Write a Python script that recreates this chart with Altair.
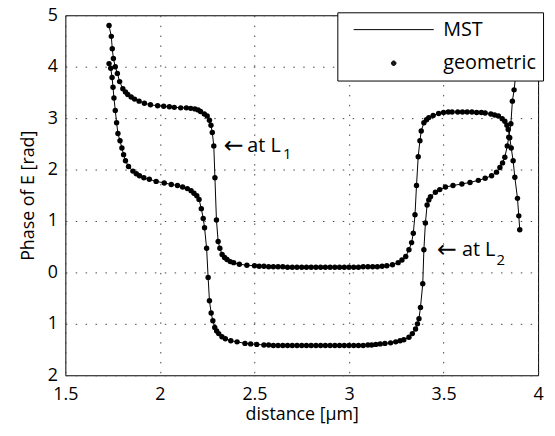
import altair as alt
import pandas as pd

# Curve through L1 (upper start)
xa = [1.731, 1.743, 1.748, 1.754, 1.764, 1.775, 1.787, 1.804, 1.818, 1.830, 1.848, 1.866,
      1.890, 1.918, 1.950, 1.988, 2.020, 2.050, 2.076, 2.110, 2.140, 2.163, 2.185, 2.202,
      2.215, 2.235, 2.250, 2.262, 2.270, 2.277, 2.285, 2.291, 2.299, 2.308, 2.317, 2.329,
      2.342, 2.355, 2.372, 2.390, 2.420, 2.460, 2.500, 2.525, 2.550, 2.575, 2.600, 2.625,
      2.650, 2.675, 2.700, 2.725, 2.750, 2.775, 2.800, 2.825, 2.850, 2.875, 2.900, 2.925,
      2.950, 2.975, 3.000, 3.025, 3.050, 3.075, 3.100, 3.125, 3.150, 3.175, 3.200, 3.230,
      3.260, 3.280, 3.300, 3.317, 3.331, 3.340, 3.349, 3.357, 3.366, 3.375, 3.382, 3.396,
      3.410, 3.422, 3.445, 3.474, 3.500, 3.525, 3.545, 3.575, 3.600, 3.625, 3.650, 3.675,
      3.700, 3.720, 3.750, 3.770, 3.790, 3.810, 3.824, 3.835, 3.842, 3.850, 3.858, 3.868,
      3.877, 3.891, 3.898, 3.903]
ya = [4.80, 4.59, 4.35, 4.16, 4.00, 3.87, 3.71, 3.57, 3.51, 3.46, 3.41, 3.37,
      3.33, 3.29, 3.26, 3.24, 3.23, 3.22, 3.21, 3.20, 3.20, 3.19, 3.18, 3.16,
      3.13, 3.08, 3.04, 2.96, 2.86, 2.72, 2.46, 1.84, 1.02, 0.60, 0.47, 0.35,
      0.29, 0.25, 0.21, 0.19, 0.16, 0.14, 0.13, 0.12, 0.12, 0.11, 0.11, 0.11,
      0.11, 0.10, 0.10, 0.10, 0.10, 0.10, 0.10, 0.10, 0.10, 0.10, 0.10, 0.10,
      0.10, 0.10, 0.10, 0.10, 0.10, 0.11, 0.11, 0.11, 0.11, 0.12, 0.13, 0.15,
      0.19, 0.24, 0.31, 0.44, 0.58, 0.76, 1.12, 1.69, 2.25, 2.56, 2.75, 2.91,
      2.97, 3.01, 3.05, 3.09, 3.11, 3.12, 3.12, 3.12, 3.12, 3.12, 3.12, 3.11,
      3.11, 3.10, 3.08, 3.06, 3.04, 2.99, 2.94, 2.86, 2.78, 2.62, 2.42, 2.17,
      1.85, 1.44, 1.10, 0.83]

# Curve through L2 (lower start)
xb = [1.731, 1.740, 1.747, 1.752, 1.757, 1.764, 1.771, 1.778, 1.789, 1.799, 1.808, 1.818,
      1.834, 1.857, 1.875, 1.892, 1.915, 1.944, 1.980, 2.023, 2.060, 2.093, 2.120, 2.145,
      2.165, 2.180, 2.195, 2.207, 2.219, 2.229, 2.236, 2.247, 2.255, 2.262, 2.271, 2.280,
      2.290, 2.300, 2.311, 2.328, 2.346, 2.375, 2.408, 2.450, 2.480, 2.512, 2.550, 2.575,
      2.600, 2.625, 2.650, 2.675, 2.700, 2.725, 2.750, 2.775, 2.800, 2.825, 2.850, 2.875,
      2.900, 2.925, 2.950, 2.975, 3.000, 3.025, 3.050, 3.075, 3.100, 3.120, 3.142, 3.165,
      3.190, 3.220, 3.247, 3.270, 3.290, 3.317, 3.335, 3.352, 3.362, 3.370, 3.378, 3.390,
      3.396, 3.404, 3.413, 3.422, 3.431, 3.457, 3.480, 3.510, 3.550, 3.597, 3.640, 3.684,
      3.720, 3.754, 3.780, 3.798, 3.812, 3.824, 3.837, 3.845, 3.856, 3.864, 3.873, 3.882,
      3.890, 3.897]
yb = [4.06, 3.97, 3.79, 3.60, 3.39, 3.15, 2.91, 2.70, 2.56, 2.42, 2.29, 2.17,
      2.06, 1.97, 1.92, 1.88, 1.84, 1.81, 1.77, 1.74, 1.71, 1.69, 1.66, 1.63,
      1.59, 1.54, 1.49, 1.42, 1.24, 1.05, 0.87, 0.47, -0.10, -0.55, -0.79, -0.94,
      -1.07, -1.14, -1.19, -1.25, -1.29, -1.33, -1.35, -1.38, -1.39, -1.40, -1.41, -1.41,
      -1.42, -1.42, -1.42, -1.42, -1.42, -1.42, -1.42, -1.42, -1.42, -1.42, -1.42, -1.42,
      -1.42, -1.42, -1.42, -1.42, -1.42, -1.42, -1.42, -1.42, -1.41, -1.41, -1.40, -1.39,
      -1.38, -1.37, -1.35, -1.33, -1.31, -1.26, -1.19, -1.10, -1.00, -0.90, -0.68, -0.22,
      0.44, 0.96, 1.31, 1.41, 1.47, 1.56, 1.61, 1.66, 1.69, 1.72, 1.75, 1.79,
      1.83, 1.88, 1.95, 2.04, 2.13, 2.24, 2.46, 2.63, 2.89, 3.33, 3.55, 3.85,
      4.15, 4.45]

x_ticks = [1.5, 2, 2.5, 3, 3.5, 4]
y_ticks = [5, 4, 3, 2, 1, 0, -1, -2]
legend_names = ["MST", "geometric"]

arrow_x = [2.337, 3.465]
arrow_y = [2.462, 0.429]
ann_text = ["at L", "at L"]
ann_x = [2.462, 3.597]
ann_y = [2.462, 0.429]
sub_text = ["1", "2"]
sub_x = [2.651, 3.780]
sub_y = [2.298, 0.231]

rows = []
for i, (x, y) in enumerate(zip(xa, ya)):
    rows.append({"curve": "A", "i": i, "x": x, "y": y})
for i, (x, y) in enumerate(zip(xb, yb)):
    rows.append({"curve": "B", "i": i, "x": x, "y": y})
df = pd.DataFrame(rows)

FONT = "Open Sans"

xenc = alt.X("x:Q", scale=alt.Scale(domain=[1.5, 4], nice=False),
             axis=alt.Axis(values=x_ticks, format="~g", title="distance [\u03bcm]",
                           grid=True, ticks=False, domain=False, labelPadding=10,
                           titlePadding=3, labelFlush=False, labelOverlap=False))
yenc = alt.Y("y:Q", scale=alt.Scale(domain=[-2, 5], nice=False),
             axis=alt.Axis(values=y_ticks, labelExpr="abs(datum.value)",
                           title="Phase of E [rad]", grid=True, ticks=False,
                           domain=False, labelPadding=8, titlePadding=10,
                           labelFlush=False, labelOverlap=False))

line = alt.Chart(df).mark_line(color="black", strokeWidth=1, clip=True).encode(
    x=xenc, y=yenc, detail="curve:N", order="i:Q")
pts = alt.Chart(df).mark_point(filled=True, color="black", size=30, opacity=1, clip=True).encode(
    x="x:Q", y="y:Q")


# legend symbols (stroked): r = sqrt(symbolSize)/2 = 10 px per unit
def ring(c, q):
    return f"M{c - q},0A{q},{q},0,1,1,{c + q},0A{q},{q},0,1,1,{c - q},0Z"


stroke_path = "M-0.1,0H8"
dot_path = "".join(ring(3.95, q) for q in (0.23, 0.18, 0.13, 0.08, 0.03))

leg_df = pd.DataFrame({"method": legend_names})
leg = alt.Chart(leg_df).mark_point(filled=False, color="black", strokeWidth=1, opacity=0).encode(
    shape=alt.Shape("method:N",
                    scale=alt.Scale(domain=legend_names, range=[stroke_path, dot_path]),
                    legend=alt.Legend(orient="none", legendX=275, legendY=-3, title=None,
                                      strokeColor="black", fillColor="white", padding=7,
                                      symbolSize=400, symbolStrokeWidth=1,
                                      symbolStrokeColor="black",
                                      symbolOpacity=1, labelFont=FONT, labelFontSize=20,
                                      labelOffset=79, rowPadding=13, labelColor="black")))

arr_df = pd.DataFrame({"x": arrow_x, "y": arrow_y})
ann_df = pd.DataFrame({"t": ann_text, "x": ann_x, "y": ann_y})
sub_df = pd.DataFrame({"t": sub_text, "x": sub_x, "y": sub_y})
arr = alt.Chart(arr_df).mark_text(text="\u2190", align="left", baseline="middle", fontSize=24,
                                  font="DejaVu Sans", color="black").encode(x="x:Q", y="y:Q")
ann = alt.Chart(ann_df).mark_text(align="left", baseline="middle", fontSize=20,
                                  font=FONT, color="black").encode(x="x:Q", y="y:Q", text="t:N")
sub = alt.Chart(sub_df).mark_text(align="left", baseline="middle", fontSize=15,
                                  font=FONT, color="black").encode(x="x:Q", y="y:Q", text="t:N")

chart = alt.layer(line, pts, arr, ann, sub, leg).properties(
    width=478, height=364,
    autosize=alt.AutoSizeParams(type="none"),
    padding={"left": 58, "top": 5, "right": 9, "bottom": 55},
    background="white",
).configure_view(stroke="black", strokeWidth=1).configure_axis(
    labelFont=FONT, titleFont=FONT, labelFontSize=18, titleFontSize=18,
    labelColor="black", titleColor="black", titleFontWeight="normal",
    gridColor="#444", gridDash=[1.5, 8.5], gridWidth=1
)

chart.save("out.html", embed_options={"renderer": "svg", "actions": False})
